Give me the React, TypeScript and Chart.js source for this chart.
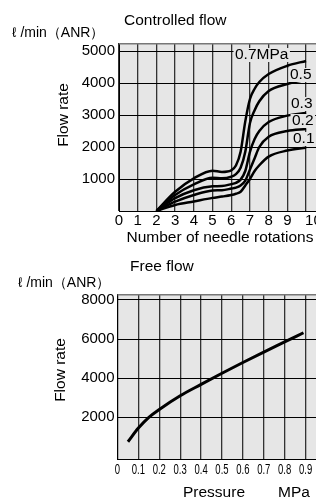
import React, { useEffect, useRef } from 'react';
import { Chart, registerables } from 'chart.js';

Chart.register(...registerables);

const FONT = '"Liberation Sans", Arial, "DejaVu Sans", sans-serif';
const PLOT_BG = '#e6e6e6';

// ---- Controlled flow ----
const rotations = [2, 3, 4, 5, 5.5, 6, 6.25, 6.5, 6.75, 7, 7.25, 7.5, 8, 9, 10];
const flow07 = [0, 600, 1020, 1260, 1220, 1270, 1420, 1850, 2800, 3500, 3820, 4030, 4280, 4540, 4690];
const flow05 = [0, 500, 830, 1040, 1020, 1070, 1150, 1350, 1850, 2750, 3150, 3430, 3750, 3970, 4100];
const flow03 = [0, 400, 650, 770, 780, 840, 880, 980, 1250, 1850, 2250, 2500, 2780, 2980, 3060];
const flow02 = [0, 290, 500, 640, 650, 700, 730, 800, 950, 1300, 1650, 2000, 2320, 2500, 2560];
const flow01 = [0, 190, 300, 410, 450, 500, 540, 600, 800, 1000, 1250, 1430, 1700, 1890, 1980];
const curveLabels = ['0.7MPa', '0.5', '0.3', '0.2', '0.1'];
const rotationTicks = ['0', '1', '2', '3', '4', '5', '6', '7', '8', '9', '10'];
const controlledYTicks = [0, 1000, 2000, 3000, 4000, 5000];

// ---- Free flow ----
const pressures = [0.05, 0.1, 0.15, 0.2, 0.3, 0.4, 0.5, 0.6, 0.7, 0.8, 0.89];
const freeFlow = [750, 1450, 2000, 2400, 3100, 3680, 4250, 4800, 5330, 5850, 6320];
const pressureTicks = ['0', '0.1', '0.2', '0.3', '0.4', '0.5', '0.6', '0.7', '0.8', '0.9'];
const freeYTicks = [2000, 4000, 6000, 8000];

const unitLabel = 'ℓ /min（ANR）';

function plotFramePlugin(borderColor: string) {
  return {
    id: 'plotFrame',
    beforeDraw(chart: any) {
      const { ctx, chartArea: a } = chart;
      ctx.save();
      ctx.fillStyle = PLOT_BG;
      ctx.fillRect(a.left, a.top, a.right - a.left, a.bottom - a.top);
      ctx.restore();
    },
    beforeDatasetsDraw(chart: any) {
      const { ctx, chartArea: a } = chart;
      ctx.save();
      ctx.strokeStyle = borderColor;
      ctx.lineWidth = 1.5;
      ctx.beginPath();
      ctx.moveTo(a.left, a.top + 0.75);
      ctx.lineTo(a.right, a.top + 0.75);
      ctx.stroke();
      ctx.restore();
    },
  };
}

function ControlledFlow() {
  const ref = useRef<HTMLCanvasElement>(null);
  useEffect(() => {
    const canvas = ref.current!;
    const series = [flow07, flow05, flow03, flow02, flow01];
    const labelPos = [
      [235, 55],
      [290, 75],
      [291, 104],
      [292, 121],
      [293, 139],
    ];
    const chart = new Chart(canvas, {
      type: 'line',
      data: {
        datasets: series.map((vals, i) => ({
          label: curveLabels[i],
          data: rotations.map((x, j) => ({ x, y: vals[j] })),
          borderColor: '#000',
          borderWidth: 2.5,
          pointRadius: 0,
          fill: false,
          cubicInterpolationMode: 'monotone' as const,
        })),
      },
      options: {
        animation: false,
        responsive: false,
        devicePixelRatio: 1,
        layout: { padding: { top: 43, left: 0, right: 0, bottom: 0 } },
        plugins: { legend: { display: false }, tooltip: { enabled: false } },
        scales: {
          x: {
            type: 'linear',
            min: 0,
            max: 10.53,
            afterBuildTicks: (s: any) => {
              s.ticks = rotationTicks.map((_, i) => ({ value: i }));
            },
            afterFit: (s: any) => {
              s.height = 39;
            },
            ticks: { display: false },
            grid: { color: '#333', lineWidth: 1.3, drawTicks: false },
            border: { color: '#000', width: 1 },
          },
          y: {
            type: 'linear',
            min: 0,
            max: 5250,
            afterBuildTicks: (s: any) => {
              s.ticks = controlledYTicks.map((v) => ({ value: v }));
            },
            afterFit: (s: any) => {
              s.width = 119;
            },
            ticks: {
              padding: 4,
              color: '#000',
              font: { family: FONT, size: 15 },
              callback: (v: any) => (v === 0 ? '' : String(v)),
            },
            grid: { color: '#000', lineWidth: 1, drawTicks: false },
            border: { color: '#000', width: 1 },
          },
        },
      },
      plugins: [
        plotFramePlugin('#777'),
        {
          id: 'curveLabels',
          afterDatasetsDraw(c: any) {
            const ctx = c.ctx;
            ctx.save();
            ctx.font = `15.5px ${FONT}`;
            ctx.textBaseline = 'middle';
            ctx.textAlign = 'left';
            curveLabels.forEach((t, i) => {
              const [lx, ly] = labelPos[i];
              const w = ctx.measureText(t).width;
              ctx.fillStyle = PLOT_BG;
              ctx.fillRect(lx - 1.5, ly - 7, w + 3, 14);
              ctx.fillStyle = '#000';
              ctx.fillText(t, lx, ly);
            });
            ctx.restore();
          },
        },
        {
          id: 'texts',
          afterDraw(c: any) {
            const ctx = c.ctx;
            const xs = c.scales.x;
            const a = c.chartArea;
            ctx.save();
            ctx.fillStyle = '#000';
            ctx.textBaseline = 'middle';
            ctx.textAlign = 'left';
            ctx.font = `15.5px ${FONT}`;
            ctx.fillText('Controlled flow', 124, 21);
            ctx.font = `14px ${FONT}`;
            ctx.fillText(unitLabel, 12, 33);
            ctx.font = `15px ${FONT}`;
            rotationTicks.forEach((t, i) => {
              const px = xs.getPixelForValue(i);
              const last = i === rotationTicks.length - 1;
              ctx.textAlign = last ? 'left' : 'center';
              ctx.fillText(t, last ? px - 1 : px, a.bottom + 10);
            });
            ctx.font = `15.5px ${FONT}`;
            ctx.textAlign = 'center';
            ctx.fillText('Number of needle rotations', 220, 238);
            ctx.translate(64, 115);
            ctx.rotate(-Math.PI / 2);
            ctx.fillText('Flow rate', 0, 0);
            ctx.restore();
          },
        },
      ],
    } as any);
    return () => chart.destroy();
  }, []);
  return <canvas ref={ref} width={316} height={250} style={{ display: 'block', width: 316, height: 250 }} />;
}

function FreeFlow() {
  const ref = useRef<HTMLCanvasElement>(null);
  useEffect(() => {
    const canvas = ref.current!;
    const chart = new Chart(canvas, {
      type: 'line',
      data: {
        datasets: [
          {
            label: 'Free flow',
            data: pressures.map((x, j) => ({ x, y: freeFlow[j] })),
            borderColor: '#000',
            borderWidth: 3,
            pointRadius: 0,
            fill: false,
            cubicInterpolationMode: 'monotone' as const,
          },
        ],
      },
      options: {
        animation: false,
        responsive: false,
        devicePixelRatio: 1,
        layout: { padding: { top: 44, left: 0, right: 0, bottom: 0 } },
        plugins: { legend: { display: false }, tooltip: { enabled: false } },
        scales: {
          x: {
            type: 'linear',
            min: 0,
            max: 0.95,
            afterBuildTicks: (s: any) => {
              s.ticks = pressureTicks.map((_, i) => ({ value: i / 10 }));
            },
            afterFit: (s: any) => {
              s.height = 42;
            },
            ticks: { display: false },
            grid: { color: '#333', lineWidth: 1.3, drawTicks: false },
            border: { color: '#000', width: 1 },
          },
          y: {
            type: 'linear',
            min: -130,
            max: 8300,
            afterBuildTicks: (s: any) => {
              s.ticks = freeYTicks.map((v) => ({ value: v }));
            },
            afterFit: (s: any) => {
              s.width = 117.5;
            },
            ticks: {
              padding: 3,
              color: '#000',
              font: { family: FONT, size: 15 },
              callback: (v: any) => String(v),
            },
            grid: { color: '#000', lineWidth: 1, drawTicks: false },
            border: { color: '#000', width: 1 },
          },
        },
      },
      plugins: [
        plotFramePlugin('#777'),
        {
          id: 'texts',
          afterDraw(c: any) {
            const ctx = c.ctx;
            const xs = c.scales.x;
            const a = c.chartArea;
            ctx.save();
            ctx.fillStyle = '#000';
            ctx.textBaseline = 'middle';
            ctx.textAlign = 'left';
            ctx.font = `15.5px ${FONT}`;
            ctx.fillText('Free flow', 130, 17);
            ctx.font = `14px ${FONT}`;
            ctx.fillText(unitLabel, 18, 33);
            ctx.font = `15.5px ${FONT}`;
            ctx.fillText('Pressure', 183, 243);
            ctx.fillText('MPa', 278, 243);
            ctx.font = `14px ${FONT}`;
            ctx.textAlign = 'center';
            pressureTicks.forEach((t, i) => {
              const px = xs.getPixelForValue(i / 10);
              ctx.save();
              ctx.translate(px, a.bottom + 11);
              ctx.scale(0.68, 1);
              ctx.fillText(t, 0, 0);
              ctx.restore();
            });
            ctx.font = `15.5px ${FONT}`;
            ctx.translate(60.5, 120);
            ctx.rotate(-Math.PI / 2);
            ctx.fillText('Flow rate', 0, 0);
            ctx.restore();
          },
        },
      ],
    } as any);
    return () => chart.destroy();
  }, []);
  return <canvas ref={ref} width={316} height={251} style={{ display: 'block', width: 316, height: 251 }} />;
}

export default function App() {
  return (
    <div style={{ position: 'absolute', left: 0, top: 0, width: 316, height: 501, background: '#fff', overflow: 'hidden' }}>
      <ControlledFlow />
      <FreeFlow />
    </div>
  );
}
